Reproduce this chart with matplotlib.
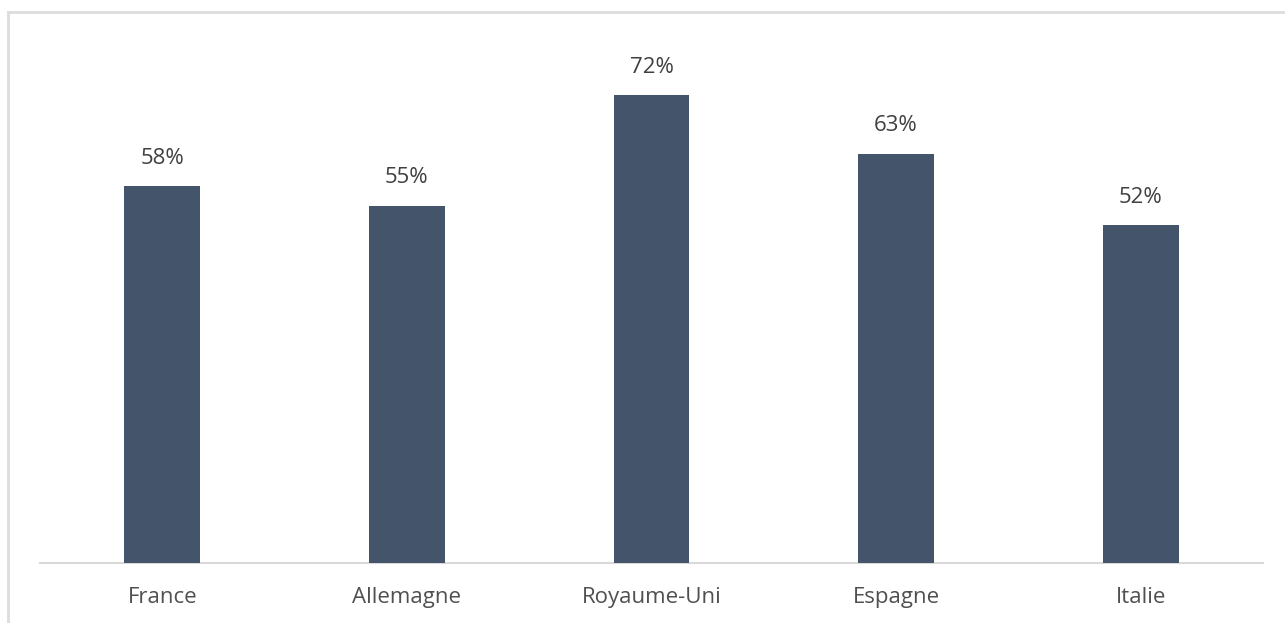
import matplotlib
matplotlib.use("Agg")
import matplotlib.pyplot as plt
from matplotlib.lines import Line2D

countries = ["France", "Allemagne", "Royaume-Uni", "Espagne", "Italie"]
values = [58, 55, 72, 63, 52]

plt.rcParams['font.family'] = ['Open Sans', 'DejaVu Sans']

W, H = 1285, 623
fig = plt.figure(figsize=(W / 100, H / 100), dpi=100)
fig.patch.set_facecolor("white")

# outer frame (left and top lines)
fig.add_artist(Line2D([8 / W, 8 / W], [0, 1 - 12 / H], transform=fig.transFigure,
                      color="#dddddd", lw=2))
fig.add_artist(Line2D([8 / W, 1], [1 - 12 / H, 1 - 12 / H], transform=fig.transFigure,
                      color="#dddddd", lw=2))

ax = fig.add_axes([40 / W, 60 / H, 1223 / W, 520 / H])
x = list(range(len(countries)))
bars = ax.bar(x, values, width=0.31, color="#44546A", zorder=3)
ax.set_xlim(-0.5, len(countries) - 0.5)
ax.set_ylim(0, 80)

for xi, v in zip(x, values):
    ax.annotate(f"{v}%", (xi, v), xytext=(0, 20), textcoords="offset points",
                ha="center", va="center", fontsize=16, color="#404040")

ax.set_xticks(x)
ax.set_xticklabels(countries, fontsize=16, color="#505050")
ax.tick_params(axis="x", length=0, pad=17)
ax.set_yticks([])
for s in ["top", "right", "left"]:
    ax.spines[s].set_visible(False)
ax.spines["bottom"].set_color("#d9d9d9")
ax.spines["bottom"].set_linewidth(1.5)

fig.savefig("out.png", dpi=100, facecolor="white")
